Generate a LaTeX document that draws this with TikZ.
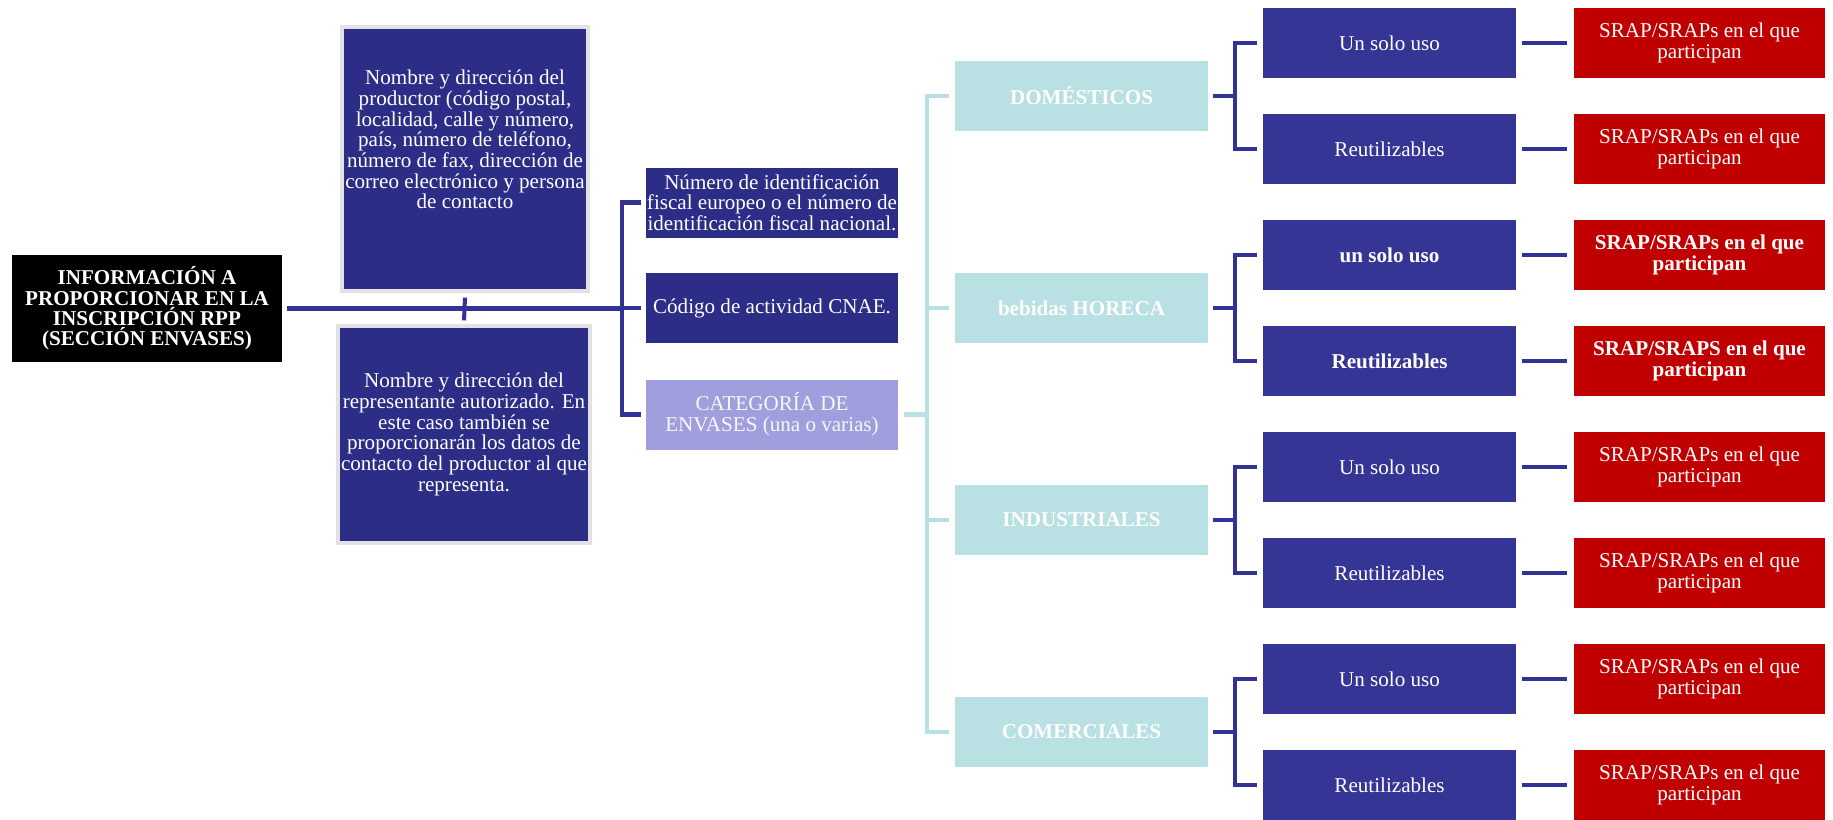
\documentclass[tikz,border=0pt]{standalone}
\usepackage{fontspec}
\setmainfont{Liberation Serif}
\definecolor{infonavy}{RGB}{44,45,134}
\definecolor{usenavy}{RGB}{53,53,150}
\definecolor{catlilac}{RGB}{160,158,220}
\definecolor{catteal}{RGB}{185,224,227}
\definecolor{srapred}{RGB}{192,0,0}
\definecolor{linknavy}{RGB}{50,50,150}
\definecolor{framegray}{RGB}{226,226,228}

\begin{document}
\begin{tikzpicture}[
    box/.style={rectangle, inner sep=0pt, align=center, text=white,
      font=\fontsize{6}{5.9}\selectfont},
    rootbox/.style={box, fill=black, minimum width=2.70cm, minimum height=1.07cm,
      font=\fontsize{6}{5.8}\selectfont\bfseries},
    infobox/.style={box, fill=infonavy, draw=framegray, line width=0.9pt},
    midbox/.style={box, fill=infonavy, minimum width=2.52cm, minimum height=0.70cm},
    catbox/.style={box, fill=catteal, minimum width=2.53cm, minimum height=0.70cm,
      font=\fontsize{6}{5.9}\selectfont\bfseries},
    usebox/.style={box, fill=usenavy, minimum width=2.53cm, minimum height=0.70cm},
    srapbox/.style={box, fill=srapred, minimum width=2.51cm, minimum height=0.70cm},
    link/.style={draw=linknavy, line width=1.15pt},
    tlink/.style={draw=catteal, line width=1.3pt}
  ]
      \clip (0,0) rectangle (18.33,-8.19);

      \coordinate (Info0) at (1.47, -3.085);
      \coordinate (Prod0) at (4.65, -1.59);
      \coordinate (Repr0) at (4.64, -4.345);
      \coordinate (Nif0) at (7.72, -2.025);
      \coordinate (Cnae0) at (7.72, -3.08);
      \coordinate (Cat0) at (7.72, -4.145);
      \coordinate (Bx) at (6.22, 0);
      \coordinate (Tx) at (9.27, 0);

      \coordinate (Dom0) at (10.815, -0.96);
      \coordinate (Hor0) at (10.815, -3.08);
      \coordinate (Ind0) at (10.815, -5.20);
      \coordinate (Com0) at (10.815, -7.32);
      \coordinate (Jx) at (12.35, 0);

      \node[rootbox] (Info) at (Info0) {INFORMACIÓN A\\PROPORCIONAR EN LA\\INSCRIPCIÓN RPP\\(SECCIÓN ENVASES)};

      \node[infobox, minimum width=2.46cm, minimum height=2.64cm] (Prod) at (Prod0) {};
      \node[box] (Prodt) at ([yshift=0.195cm]Prod.center) {Nombre y dirección del\\productor (código postal,\\localidad, calle y número,\\país, número de teléfono,\\número de fax, dirección de\\correo electrónico y persona\\de contacto};
      \node[infobox, minimum width=2.52cm, minimum height=2.17cm] (Repr) at (Repr0) {Nombre y dirección del\\representante autorizado. En\\este caso también se\\proporcionarán los datos de\\contacto del productor al que\\representa.};

      \node[midbox] (Nif) at (Nif0) {Número de identificación\\fiscal europeo o el número de\\identificación fiscal nacional.};
      \node[midbox] (Cnae) at (Cnae0) {Código de actividad CNAE.};
      \node[midbox, fill=catlilac, text=white!93!catlilac] (Cat) at (Cat0) {CATEGORÍA DE\\ENVASES (una o varias)};

      \node[catbox] (Dom) at (Dom0) {DOMÉSTICOS};
      \node[catbox] (Hor) at (Hor0) {bebidas HORECA};
      \node[catbox] (Ind) at (Ind0) {INDUSTRIALES};
      \node[catbox] (Com) at (Com0) {COMERCIALES};

      \node[usebox] (DomU) at (13.895, -0.43) {Un solo uso};
      \node[usebox] (DomR) at (13.895, -1.49) {Reutilizables};
      \node[usebox, font=\fontsize{6}{5.9}\selectfont\bfseries] (HorU) at (13.895, -2.55) {un solo uso};
      \node[usebox, font=\fontsize{6}{5.9}\selectfont\bfseries] (HorR) at (13.895, -3.61) {Reutilizables};
      \node[usebox] (IndU) at (13.895, -4.67) {Un solo uso};
      \node[usebox] (IndR) at (13.895, -5.73) {Reutilizables};
      \node[usebox] (ComU) at (13.895, -6.79) {Un solo uso};
      \node[usebox] (ComR) at (13.895, -7.85) {Reutilizables};

      \node[srapbox] (DomUs) at (16.995, -0.43) {SRAP/SRAPs en el que\\participan};
      \node[srapbox] (DomRs) at (16.995, -1.49) {SRAP/SRAPs en el que\\participan};
      \node[srapbox, font=\fontsize{6}{5.9}\selectfont\bfseries] (HorUs) at (16.995, -2.55) {SRAP/SRAPs en el que\\participan};
      \node[srapbox, font=\fontsize{6}{5.9}\selectfont\bfseries] (HorRs) at (16.995, -3.61) {SRAP/SRAPS en el que\\participan};
      \node[srapbox] (IndUs) at (16.995, -4.67) {SRAP/SRAPs en el que\\participan};
      \node[srapbox] (IndRs) at (16.995, -5.73) {SRAP/SRAPs en el que\\participan};
      \node[srapbox] (ComUs) at (16.995, -6.79) {SRAP/SRAPs en el que\\participan};
      \node[srapbox] (ComRs) at (16.995, -7.85) {SRAP/SRAPs en el que\\participan};

      \draw[link, shorten <=0.4mm] (Info.east) -- (Info.east -| Bx);
      \draw[link] ([yshift=-0.5mm]Prod.south) -- ([yshift=0.4mm]Repr.north);
      \draw[link] ([xshift=-0.4mm]Nif.west) -- (Nif.west -| Bx) -- (Cat.west -| Bx) -- ([xshift=-0.4mm]Cat.west);
      \draw[link] (Cnae.west -| Bx) -- ([xshift=-0.4mm]Cnae.west);

      \draw[tlink] ([xshift=0.5mm]Cat.east) -- (Cat.east -| Tx);
      \draw[tlink] ([xshift=-0.5mm]Dom.west) -- (Dom.west -| Tx) -- (Com.west -| Tx) -- ([xshift=-0.5mm]Com.west);
      \draw[tlink] (Hor.west -| Tx) -- ([xshift=-0.5mm]Hor.west);
      \draw[tlink] (Ind.west -| Tx) -- ([xshift=-0.5mm]Ind.west);

      \draw[link] ([xshift=0.4mm]Dom.east) -- (Dom.east -| Jx);
      \draw[link] ([xshift=-0.5mm]DomU.west) -- (DomU.west -| Jx) -- (DomR.west -| Jx) -- ([xshift=-0.5mm]DomR.west);
      \draw[link] ([xshift=0.4mm]Hor.east) -- (Hor.east -| Jx);
      \draw[link] ([xshift=-0.5mm]HorU.west) -- (HorU.west -| Jx) -- (HorR.west -| Jx) -- ([xshift=-0.5mm]HorR.west);
      \draw[link] ([xshift=0.4mm]Ind.east) -- (Ind.east -| Jx);
      \draw[link] ([xshift=-0.5mm]IndU.west) -- (IndU.west -| Jx) -- (IndR.west -| Jx) -- ([xshift=-0.5mm]IndR.west);
      \draw[link] ([xshift=0.4mm]Com.east) -- (Com.east -| Jx);
      \draw[link] ([xshift=-0.5mm]ComU.west) -- (ComU.west -| Jx) -- (ComR.west -| Jx) -- ([xshift=-0.5mm]ComR.west);

      \draw[link, shorten <=0.5mm, shorten >=0.6mm] (DomU.east) -- (DomUs.west);
      \draw[link, shorten <=0.5mm, shorten >=0.6mm] (DomR.east) -- (DomRs.west);
      \draw[link, shorten <=0.5mm, shorten >=0.6mm] (HorU.east) -- (HorUs.west);
      \draw[link, shorten <=0.5mm, shorten >=0.6mm] (HorR.east) -- (HorRs.west);
      \draw[link, shorten <=0.5mm, shorten >=0.6mm] (IndU.east) -- (IndUs.west);
      \draw[link, shorten <=0.5mm, shorten >=0.6mm] (IndR.east) -- (IndRs.west);
      \draw[link, shorten <=0.5mm, shorten >=0.6mm] (ComU.east) -- (ComUs.west);
      \draw[link, shorten <=0.5mm, shorten >=0.6mm] (ComR.east) -- (ComRs.west);
    \end{tikzpicture}
\end{document}
